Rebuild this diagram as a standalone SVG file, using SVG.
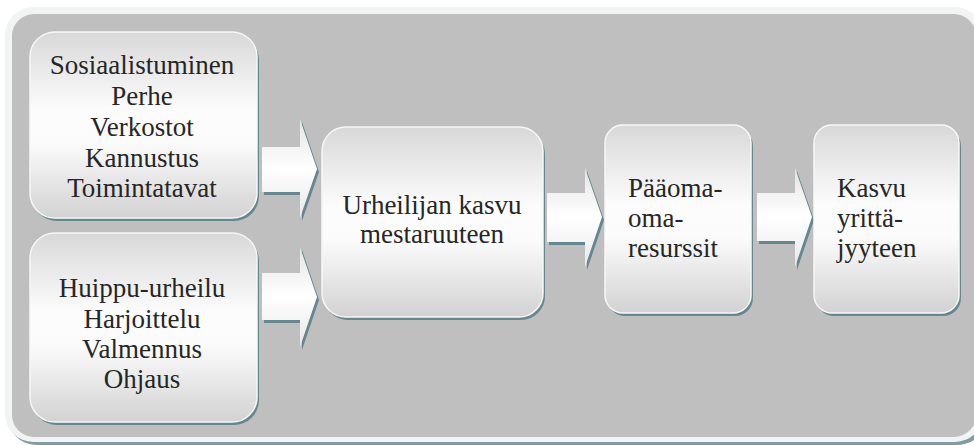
<svg xmlns="http://www.w3.org/2000/svg" width="974" height="445" viewBox="0 0 974 445">
  <defs>
    <linearGradient id="boxFill" x1="0" y1="0" x2="0" y2="1">
      <stop offset="0" stop-color="#d8d8d8"/>
      <stop offset="0.42" stop-color="#fcfcfc"/>
      <stop offset="0.6" stop-color="#fbfbfb"/>
      <stop offset="1" stop-color="#d2d2d2"/>
    </linearGradient>
    <linearGradient id="arrowFill" x1="0" y1="0" x2="0" y2="1">
      <stop offset="0" stop-color="#e4e4e4"/>
      <stop offset="0.5" stop-color="#ffffff"/>
      <stop offset="1" stop-color="#e8e8e8"/>
    </linearGradient>
    <style>
      .frame { fill: #f2f4f4; }
      .frameShadow { fill: #7d9ca4; }
      .panel { fill: #bfbfbf; }
      .shadow { fill: #648790; }
      .box { fill: url(#boxFill); stroke: #f7f7f7; stroke-width: 1.5; }
      .arrow { fill: url(#arrowFill); }
      .label { font-size: 27px; fill: #262626; }
      .c { text-anchor: middle; }
    </style>
  </defs>

  <!-- outer frame and grey panel -->
  <g id="background">
    <rect class="frameShadow" x="8" y="10" width="978" height="435" rx="28"/>
    <rect class="frame" x="5" y="7" width="978" height="435" rx="28"/>
    <rect class="panel" x="12" y="14" width="964" height="423" rx="22"/>
  </g>

  <!-- block arrows -->
  <g id="connectors">
    <path class="shadow" d="M264,150 H302 V122 L319,172 L302,221 V195 H264 Z"/>
    <path class="arrow" d="M262,147 H300 V119 L317,169 L300,218 V192 H262 Z"/>
    <path class="shadow" d="M264,276 H302 V250 L319,300 L302,350 V323 H264 Z"/>
    <path class="arrow" d="M262,273 H300 V247 L317,297 L300,347 V320 H262 Z"/>
    <path class="shadow" d="M549,196 H587 V171 L604,220 L587,270 V245 H549 Z"/>
    <path class="arrow" d="M547,193 H585 V168 L602,217 L585,267 V242 H547 Z"/>
    <path class="shadow" d="M759,196 H797 V171 L814,220 L797,270 V244 H759 Z"/>
    <path class="arrow" d="M757,193 H795 V168 L812,217 L795,267 V241 H757 Z"/>
  </g>

  <g class="label" font-family="'Liberation Serif', 'DejaVu Serif', serif">
    <g id="node-sosiaalistuminen">
      <rect class="shadow" x="32" y="35" width="227" height="186" rx="25"/>
      <rect class="box" x="30" y="32" width="227" height="186" rx="25"/>
      <text class="c" x="142" y="74">Sosiaalistuminen</text>
      <text class="c" x="142" y="105">Perhe</text>
      <text class="c" x="142" y="136">Verkostot</text>
      <text class="c" x="142" y="167">Kannustus</text>
      <text class="c" x="142" y="197">Toimintatavat</text>
    </g>

    <g id="node-huippu-urheilu">
      <rect class="shadow" x="32" y="236" width="227" height="189" rx="25"/>
      <rect class="box" x="30" y="233" width="227" height="189" rx="25"/>
      <text class="c" x="142" y="297">Huippu-urheilu</text>
      <text class="c" x="142" y="328">Harjoittelu</text>
      <text class="c" x="142" y="358">Valmennus</text>
      <text class="c" x="142" y="388">Ohjaus</text>
    </g>

    <g id="node-urheilijan-kasvu">
      <rect class="shadow" x="324" y="130" width="221" height="190" rx="24"/>
      <rect class="box" x="322" y="127" width="221" height="190" rx="24"/>
      <text class="c" x="432" y="214">Urheilijan kasvu</text>
      <text class="c" x="432" y="243">mestaruuteen</text>
    </g>

    <g id="node-paaoma">
      <rect class="shadow" x="607" y="128" width="146" height="188" rx="18"/>
      <rect class="box" x="605" y="125" width="146" height="188" rx="18"/>
      <text x="628" y="197">Pääoma-</text>
      <text x="628" y="227">oma-</text>
      <text x="628" y="257">resurssit</text>
    </g>

    <g id="node-kasvu-yrittajyyteen">
      <rect class="shadow" x="816" y="128" width="145" height="188" rx="18"/>
      <rect class="box" x="814" y="125" width="145" height="188" rx="18"/>
      <text x="837" y="197">Kasvu</text>
      <text x="837" y="227">yrittä-</text>
      <text x="837" y="257">jyyteen</text>
    </g>
  </g>
</svg>
